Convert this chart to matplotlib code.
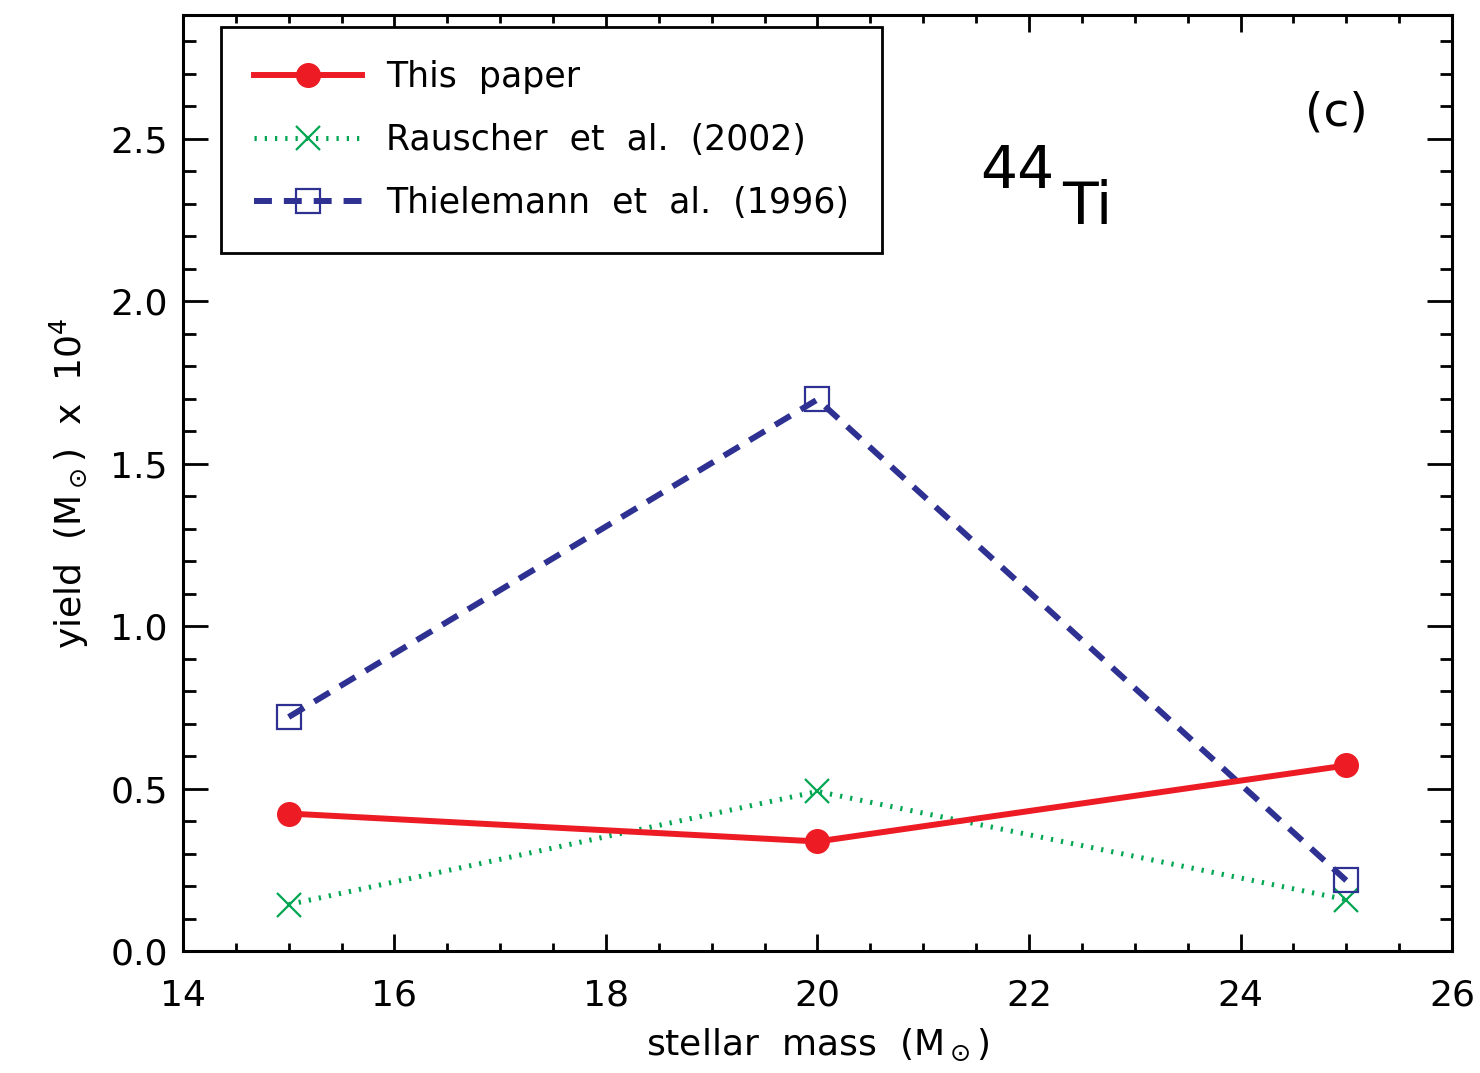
import matplotlib.pyplot as plt
from matplotlib.ticker import MultipleLocator

plt.rcParams['font.family'] = 'DejaVu Sans'
plt.rcParams['mathtext.default'] = 'regular'

# stellar masses and 44Ti yields (x 1e4 Msun)
mass = [15, 20, 25]
this_paper = [0.423, 0.337, 0.571]
rauscher = [0.143, 0.491, 0.158]
thielemann = [0.720, 1.697, 0.217]

red = '#ED1C24'
green = '#00A651'
blue = '#2E3192'

fig = plt.figure(figsize=(14.8, 10.73), dpi=100)
ax = fig.add_axes([0.1236, 0.1137, 0.8575, 0.8723])

ax.plot(mass, this_paper, '-o', color=red, lw=4.3, ms=17, label='This  paper', zorder=3)
ax.plot(mass, rauscher, ':x', color=green, lw=3.6, ms=17, mew=1.6,
        dashes=(0.45, 1.6), label='Rauscher  et  al.  (2002)', zorder=2)
ax.plot(mass, thielemann, '--s', color=blue, lw=4.3, ms=17, mew=1.6, mfc='none',
        dashes=(3.0, 2.0), label='Thielemann  et  al.  (1996)', zorder=2)

ax.set_xlim(14, 26)
ax.set_ylim(0, 2.88)
ax.xaxis.set_major_locator(MultipleLocator(2))
ax.xaxis.set_minor_locator(MultipleLocator(0.5))
ax.yaxis.set_major_locator(MultipleLocator(0.5))
ax.yaxis.set_minor_locator(MultipleLocator(0.1))
ax.xaxis.set_major_formatter(plt.FormatStrFormatter('%d'))
ax.yaxis.set_major_formatter(plt.FormatStrFormatter('%.1f'))

ax.tick_params(which='both', direction='in', top=True, right=True, width=2,
               labelsize=26)
ax.tick_params(axis='x', which='major', length=12, pad=20)
ax.tick_params(axis='x', which='minor', length=6)
ax.tick_params(axis='y', which='major', length=18, pad=11)
ax.tick_params(axis='y', which='minor', length=9)
for s in ax.spines.values():
    s.set_linewidth(2.2)

ax.set_xlabel(r'stellar  mass  (M$_\odot$)', fontsize=26, labelpad=10)
ax.set_ylabel(r'yield  (M$_\odot$)  x  10$^4$', fontsize=26, labelpad=14)

ax.text(0.628, 0.815, '44', transform=ax.transAxes, fontsize=42)
ax.text(0.693, 0.777, 'Ti', transform=ax.transAxes, fontsize=42)
ax.text(0.909, 0.895, '(c)', transform=ax.transAxes, fontsize=34,
        ha='center', va='center')

leg = ax.legend(loc='upper left', bbox_to_anchor=(0.030, 0.987), fontsize=25,
                frameon=True, fancybox=False, edgecolor='black', framealpha=1,
                handlelength=3.1, numpoints=1, borderaxespad=0, borderpad=0.95,
                labelspacing=0.83, handletextpad=0.7)
leg.get_frame().set_linewidth(2)

fig.savefig('out.png', dpi=100)
